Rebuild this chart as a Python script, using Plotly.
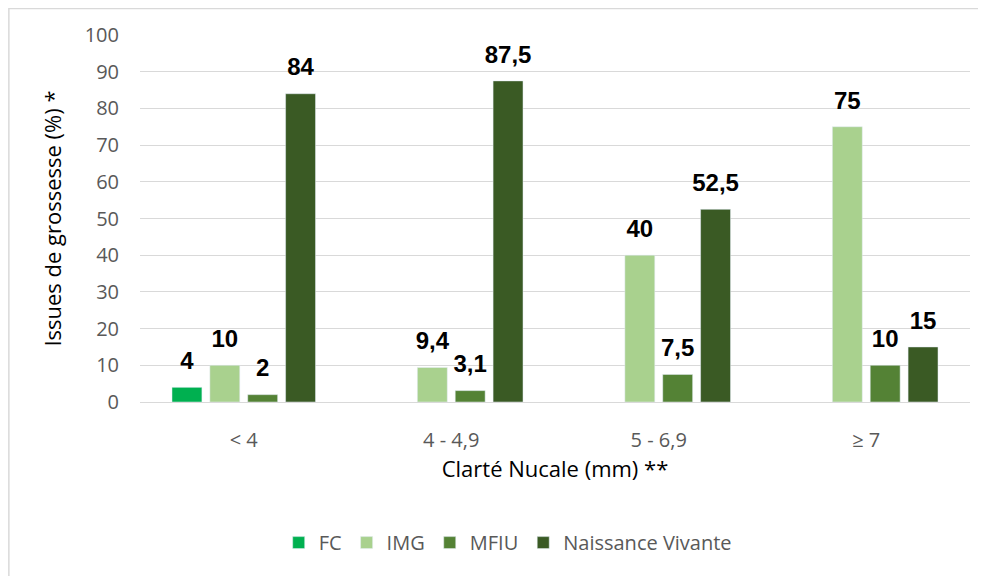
import plotly.graph_objects as go

categories = ["< 4", "4 - 4,9", "5 - 6,9", "≥ 7"]
fc = [4, None, None, None]
img = [10, 9.4, 40, 75]
mfiu = [2, 3.1, 7.5, 10]
nv = [84, 87.5, 52.5, 15]

series = [
    ("FC", fc, "#00B050"),
    ("IMG", img, "#A9D18E"),
    ("MFIU", mfiu, "#548235"),
    ("Naissance Vivante", nv, "#3A5A24"),
]


def fmt(v):
    if v is None:
        return ""
    return f"{v:g}".replace(".", ",")


fig = go.Figure()
for i, (name, vals, color) in enumerate(series):
    fig.add_trace(
        go.Bar(
            x=categories,
            y=vals,
            name=name,
            marker_color=color,
            offsetgroup=str(i),
        )
    )
# value labels as grouped scatter text so they sit a bit higher above the bars
for i, (name, vals, color) in enumerate(series):
    fig.add_trace(
        go.Scatter(
            x=categories,
            y=vals,
            mode="markers+text",
            text=[fmt(v) for v in vals],
            textposition="top center",
            textfont=dict(size=24, color="black", family="Liberation Sans", weight="bold"),
            marker=dict(size=18, opacity=0),
            offsetgroup=str(i),
            showlegend=False,
            hoverinfo="skip",
            cliponaxis=False,
        )
    )

# page body adds an 8px offset, so margins are shifted to compensate
fig.update_layout(
    width=986,
    height=576,
    barmode="group",
    scattermode="group",
    bargap=0.27,
    bargroupgap=0.21,
    plot_bgcolor="white",
    paper_bgcolor="white",
    margin=dict(l=132, r=24, t=27, b=182),
    font=dict(family="Open Sans", color="#595959", size=20),
    legend=dict(
        orientation="h",
        x=0.443,
        xanchor="center",
        y=-0.33,
        yanchor="top",
        font=dict(size=20, color="#595959"),
        traceorder="normal",
    ),
)
fig.update_xaxes(
    title=dict(text="Clarté Nucale (mm) **", font=dict(size=22, color="black"), standoff=6),
    ticklabelstandoff=20,
    showline=True,
    linecolor="#D9D9D9",
    linewidth=1,
)
fig.update_yaxes(
    range=[0, 100],
    dtick=10,
    showgrid=True,
    gridcolor="#D9D9D9",
    gridwidth=1,
    zeroline=False,
    ticklabelstandoff=20,
    title=dict(text="Issues de grossesse (%) *", font=dict(size=22, color="black"), standoff=16),
)
fig.add_shape(
    type="rect",
    xref="paper",
    yref="paper",
    x0=-0.158,
    x1=1.04,
    y0=-0.52,
    y1=1.072,
    line=dict(color="#D9D9D9", width=1.5),
)

fig.write_html("out.html")
